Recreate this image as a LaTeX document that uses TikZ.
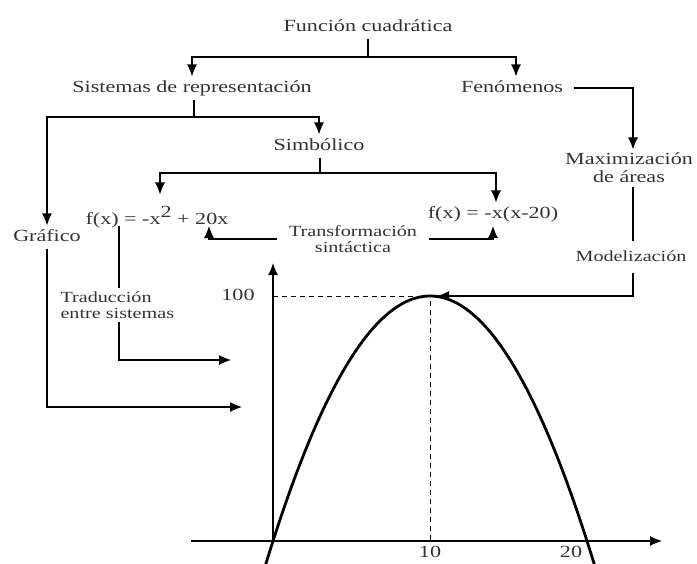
\documentclass[tikz,border=0pt]{standalone}
\usepackage{fontspec}
\setmainfont{Liberation Serif}[FakeStretch=1.3]
\usetikzlibrary{arrows.meta}

\newcommand{\lblbig}{\fontsize{17}{18}\selectfont}
\newcommand{\lblsmall}{\fontsize{15.5}{16}\selectfont}

\tikzset{
  lbls/.style={font=\lblbig, text=black!80, inner xsep=2pt, inner ysep=3pt},
  lbl/.style={lbls, text height=12pt, text depth=4pt},
  dashline/.style={line width=0.9pt, dash pattern=on 5pt off 4pt},
  curve/.style={line width=2.8pt},
}

\begin{document}
\begin{tikzpicture}[x=1pt, y=-1pt, >={Latex[length=12pt,width=10pt]}, line width=1.1pt]
    % labels
    \node[lbl] (fq) at (368,27) {Función cuadrática};
    \node[lbl] (sr) at (192,88) {Sistemas de representación};
    \node[lbl] (fen) at (512,88) {Fenómenos};
    \node[lbl] (sim) at (319,146) {Simbólico};
    \node[lbls, align=center] (max) at (629,168) {Maximización\\de áreas};
    \node[lbl] (graf) at (47,237) {Gráfico};
    \node[lbl] (f1) at (157,220) {f(x) = -x\raisebox{7pt}{2} + 20x};
    \node[lbl] (f2) at (493,214) {f(x) = -x(x-20)};
    \node[lbls, font=\lblsmall, align=center, inner xsep=11pt] (trans) at (353,239) {Transformación\\sintáctica};
    \node[lbl, font=\lblsmall, inner ysep=7pt] (mod) at (631,257) {Modelización};
    \node[lbl] (l100) at (238,296) {100};
    \node[lbl] (l10) at (430,553) {10};
    \node[lbl] (l20) at (571,553) {20};

    % tree
    \coordinate (j1) at (368,57);
    \coordinate (j2) at (194,117);
    \coordinate (j3) at (320,173);
    \draw (fq.south) -- (j1);
    \draw[->] (j1) -| (sr.north);
    \draw[->] (j1) -| ([xshift=4pt]fen.north);
    \draw (sr.south -| j2) -- (j2);
    \draw[->] (j2) -| (sim.north);
    \draw[->] (j2) -| (graf.north);
    \draw (sim.south -| j3) -- (j3);
    \draw[->] (j3) -| ([shift={(3pt,14pt)}]f1.north);
    \draw[->] (j3) -| ([xshift=3pt]f2.north);

    % transformacion
    \coordinate (t1) at (209,226);
    \coordinate (t2) at (493,226);
    \draw[->] (trans.west) -| (t1);
    \draw[->] (trans.east) -| (t2);

    % fenomenos
    \coordinate (vtx) at (430,296);
    \draw[->] ([xshift=8pt]fen.east) -| ([xshift=4pt]max.north);
    \draw ([xshift=4pt]max.south) -- ([xshift=2pt]mod.north);
    \draw[->, shorten >=7pt] ([xshift=2pt]mod.south) |- (vtx);

    % to the graph
    \coordinate (a1) at (231,360);
    \coordinate (a2) at (242,407);
    \draw[->] ([shift={(-38pt,6pt)}]f1.south) |- (a1);
    \draw[->] (graf.south) |- (a2);
    \node[lbls, font=\lblsmall, align=left, anchor=west, fill=white, inner ysep=4pt] (trad) at (58,305) {Traducción\\entre sistemas};

    % axes
    \coordinate (o) at (273,541);
    \coordinate (xs) at (191,541);
    \coordinate (xe) at (662,541);
    \coordinate (ye) at (273,263);
    \draw[->] (xs) -- (xe);
    \draw[->] (o) -- (ye);
    \draw[dashline] (o |- vtx) -- (vtx) -- (vtx |- o);

    \begin{scope}
      \clip (0,0) rectangle (697,563);
      \draw[curve] plot[domain=-1.08:1.08, samples=80] ({430+157*\x},{541-245*(1-\x*\x)});
    \end{scope}

    \pgfresetboundingbox
    \useasboundingbox (0,0) rectangle (697,563);
\end{tikzpicture}
\end{document}
